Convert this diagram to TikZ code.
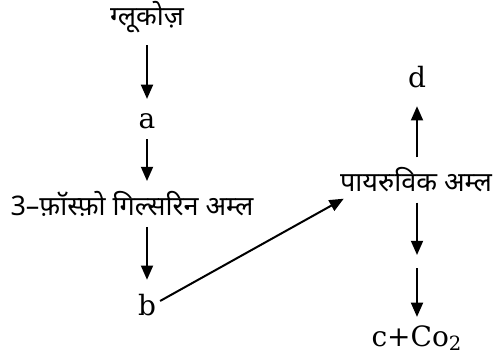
\documentclass[tikz,border=0pt]{standalone}
\usepackage{fontspec}
\setmainfont{DejaVu Serif}
\newfontfamily\hindifont[Script=Devanagari]{Noto Sans}
\usetikzlibrary{arrows.meta, positioning}
\tikzset{
  flow/.style  = {-{Triangle[length=2.5mm, width=2.1mm]}, line width=1pt, black},
  chem/.style  = {font=\fontsize{14}{17}\selectfont, inner sep=1pt},
  hin/.style   = {font=\fontsize{13.5}{16}\selectfont\hindifont, inner sep=1pt},
}

\begin{document}
\begin{tikzpicture}[x=0.5pt, y=-0.5pt]
  \useasboundingbox (0,0) rectangle (497,363);
  % glycolysis column
  \node[hin]  (glu) at (147,17)  {ग्लूकोज़};
  \node[chem] (a)   at (147,121) {a};
  \node[hin]  (pga) at (132,204) {3–फ़ॉस्फ़ो गिल्सरिन अम्ल};
  \node[chem] (b)   at (147,305) {b};
  \draw[flow, shorten <=5pt, shorten >=6pt] (glu) -- (a);
  \draw[flow, shorten <=4pt, shorten >=4pt] (a) -- (a |- pga.north);
  \draw[flow, shorten <=4pt, shorten >=6pt] (a |- pga.south) -- (b);
  % pyruvic acid
  \node[hin]  (pyr) at (416,180) {पायरुविक अम्ल};
  \node[chem] (d)   at (417,77)  {d};
  \coordinate (gap1) at (417,255);
  \coordinate (gap2) at (417,268);
  \node[chem] (c)   at (417,338) {c+Co\textsubscript{2}};
  \draw[flow, shorten <=1pt] (b.15) -- ([xshift=3pt,yshift=-2pt]pyr.south west);
  \draw[flow, shorten <=4pt, shorten >=8pt] (pyr.north -| d) -- (d);
  \draw[flow, shorten <=4pt] (pyr.south -| d) -- (gap1);
  \draw[flow, shorten >=3pt] (gap2) -- (c);
\end{tikzpicture}
\end{document}
